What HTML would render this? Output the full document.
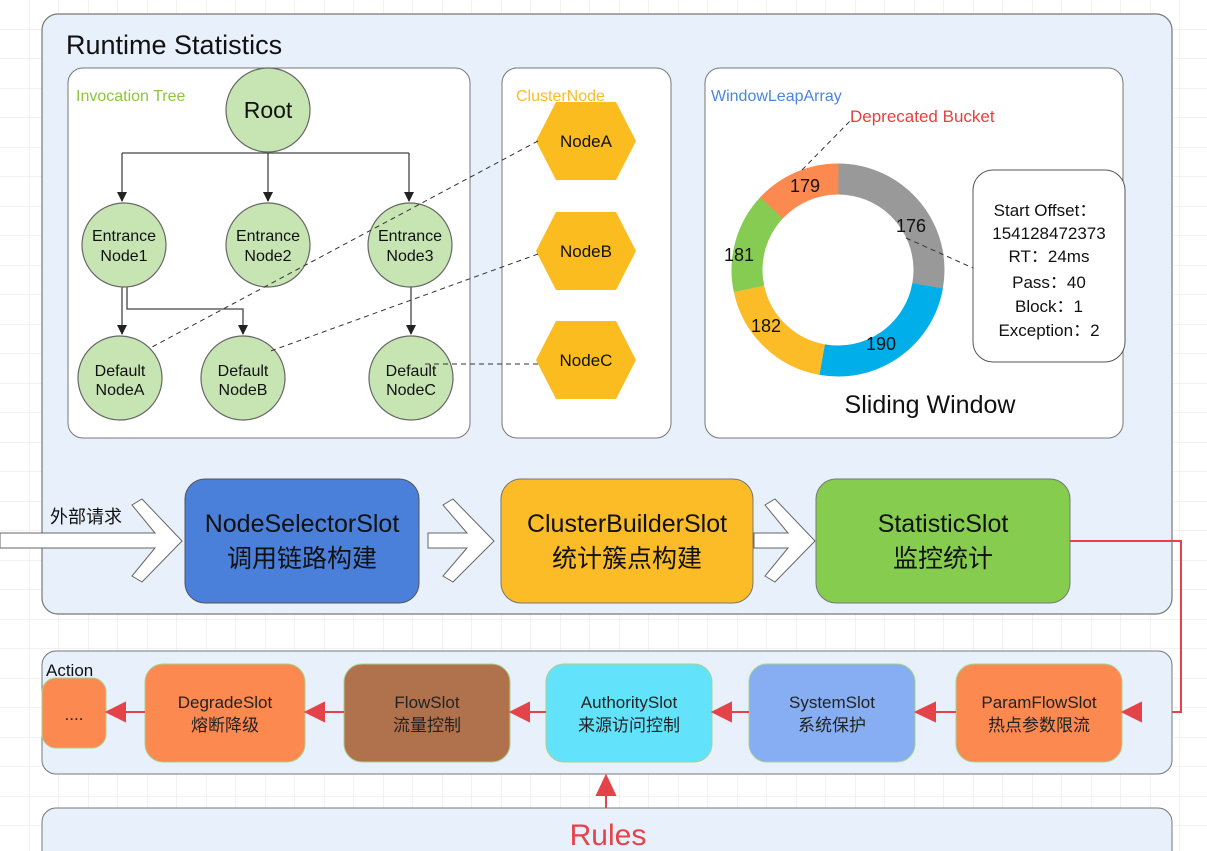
<!DOCTYPE html>
<html><head><meta charset="utf-8"><style>
html,body{margin:0;padding:0;background:#fff;}
svg{display:block;font-family:"Liberation Sans","Noto Sans CJK SC",sans-serif;}
</style></head><body>
<svg width="1207" height="851" viewBox="0 0 1207 851" xmlns="http://www.w3.org/2000/svg">
<defs>
<pattern id="g" width="29.5" height="29.5" patternUnits="userSpaceOnUse"><path d="M29.5 0V29.5H0" fill="none" stroke="#e6e6e6" stroke-width="1"/></pattern>
<marker id="ab" markerWidth="10" markerHeight="10" refX="9" refY="5" orient="auto" markerUnits="userSpaceOnUse"><path d="M0,0 L10,5 L0,10Z" fill="#222"/></marker>
</defs>
<rect width="1207" height="851" fill="url(#g)"/>
<rect x="42" y="14" width="1130" height="600" rx="16" fill="#e7f0fb" stroke="#777" stroke-width="1.2"/>
<text x="66" y="54" font-size="27" fill="#111">Runtime Statistics</text>
<rect x="68" y="68" width="402" height="370" rx="15" fill="#fff" stroke="#777"/>
<text x="76" y="101" font-size="16" fill="#8cc63e">Invocation Tree</text>
<g stroke="#444" stroke-width="1.3" fill="none">
<path d="M268 152V153M122 153H409"/>
<path d="M122 153V201" marker-end="url(#ab)"/>
<path d="M268 152V201" marker-end="url(#ab)"/>
<path d="M409 153V201" marker-end="url(#ab)"/>
<path d="M122 287V334" marker-end="url(#ab)"/>
<path d="M127 287V309H243V334" marker-end="url(#ab)"/>
<path d="M411 287V334" marker-end="url(#ab)"/>
</g>
<g fill="#c6e5b3" stroke="#666" stroke-width="1.2">
<circle cx="268" cy="110" r="42"/>
<circle cx="124" cy="245" r="42"/><circle cx="268" cy="245" r="42"/><circle cx="410" cy="245" r="42"/>
<circle cx="120" cy="378" r="42"/><circle cx="243" cy="378" r="42"/><circle cx="411" cy="378" r="42"/>
</g>
<g font-size="16" fill="#111" text-anchor="middle">
<text x="268" y="118" font-size="23">Root</text>
<text x="124" y="241">Entrance</text><text x="124" y="261">Node1</text>
<text x="268" y="241">Entrance</text><text x="268" y="261">Node2</text>
<text x="410" y="241">Entrance</text><text x="410" y="261">Node3</text>
<text x="120" y="376">Default</text><text x="120" y="395">NodeA</text>
<text x="243" y="376">Default</text><text x="243" y="395">NodeB</text>
<text x="411" y="376">Default</text><text x="411" y="395">NodeC</text>
</g>
<rect x="502" y="68" width="169" height="370" rx="15" fill="#fff" stroke="#777"/>
<text x="516" y="101" font-size="16" fill="#fbbc1f">ClusterNode</text>
<g fill="#fbbc1f">
<polygon points="536,141 556,102 616,102 636,141 616,180 556,180"/>
<polygon points="536,251 556,212 616,212 636,251 616,290 556,290"/>
<polygon points="536,360 556,321 616,321 636,360 616,399 556,399"/>
</g>
<g font-size="17" fill="#111" text-anchor="middle">
<text x="586" y="147">NodeA</text><text x="586" y="257">NodeB</text><text x="586" y="366">NodeC</text>
</g>
<g stroke="#333" stroke-dasharray="5,4" fill="none">
<path d="M538 141L152 347"/><path d="M538 254L268 352"/><path d="M538 364H425"/>
</g>
<rect x="705" y="68" width="418" height="370" rx="15" fill="#fff" stroke="#777"/>
<text x="711" y="101" font-size="16" fill="#4a86e0">WindowLeapArray</text>
<text x="850" y="122" font-size="17" fill="#e5403f">Deprecated Bucket</text>
<g fill="none" stroke-width="31">
<circle cx="838" cy="270" r="91" stroke="#999" stroke-dasharray="159 600" transform="rotate(-90 838 270)"/>
<circle cx="838" cy="270" r="91" stroke="#00aeea" stroke-dasharray="143 600" transform="rotate(10 838 270)"/>
<circle cx="838" cy="270" r="91" stroke="#fbbc27" stroke-dasharray="108 600" transform="rotate(100 838 270)"/>
<circle cx="838" cy="270" r="91" stroke="#86cc52" stroke-dasharray="88 600" transform="rotate(168 838 270)"/>
<circle cx="838" cy="270" r="91" stroke="#fc8950" stroke-dasharray="75 600" transform="rotate(223 838 270)"/>
</g>
<g stroke="#333" stroke-dasharray="5,4" fill="none">
<path d="M802 170L851 120"/><path d="M906 238L973 268"/>
</g>
<g font-size="18" fill="#111" text-anchor="middle">
<text x="805" y="192">179</text><text x="911" y="232">176</text><text x="739" y="261">181</text>
<text x="766" y="332">182</text><text x="881" y="350">190</text>
</g>
<text x="930" y="413" font-size="25" fill="#111" text-anchor="middle">Sliding Window</text>
<rect x="973" y="170" width="152" height="192" rx="20" fill="#fff" stroke="#555"/>
<g font-size="17" fill="#111" text-anchor="middle">
<text x="1045" y="216">Start Offset：</text><text x="1049" y="239">154128472373</text>
<text x="1049" y="262">RT：24ms</text><text x="1049" y="288">Pass：40</text>
<text x="1049" y="312">Block：1</text><text x="1049" y="336">Exception：2</text>
</g>
<path d="M0 533H155L132 505L142 499L182 541L142 582L132 576L155 548H0Z" fill="#fff" stroke="#666"/>
<text x="50" y="523" font-size="18" fill="#111">外部请求</text>
<rect x="185" y="479" width="234" height="124" rx="20" fill="#4a80d9" stroke="#555"/>
<text x="302" y="532" font-size="25" fill="#111" text-anchor="middle">NodeSelectorSlot</text>
<text x="302" y="567" font-size="25" fill="#111" text-anchor="middle">调用链路构建</text>
<path d="M428 533H467L443 505L453 499L494 541L453 582L443 576L467 548H428Z" fill="#fff" stroke="#666"/>
<rect x="501" y="479" width="252" height="124" rx="20" fill="#fbbc27" stroke="#777"/>
<text x="627" y="532" font-size="25" fill="#111" text-anchor="middle">ClusterBuilderSlot</text>
<text x="627" y="567" font-size="25" fill="#111" text-anchor="middle">统计簇点构建</text>
<path d="M754 533H788L765 505L775 499L815 541L775 582L765 576L788 548H754Z" fill="#fff" stroke="#666"/>
<rect x="816" y="479" width="254" height="124" rx="20" fill="#86cc4e" stroke="#777"/>
<text x="943" y="532" font-size="25" fill="#111" text-anchor="middle">StatisticSlot</text>
<text x="943" y="567" font-size="25" fill="#111" text-anchor="middle">监控统计</text>
<path d="M1070 541H1181V712H1140" fill="none" stroke="#e5434a" stroke-width="2"/>
<rect x="42" y="651" width="1130" height="123" rx="14" fill="#e7f0fb" stroke="#777"/>
<text x="46" y="676" font-size="17" fill="#111">Action</text>
<g stroke="#a9d18e" stroke-width="1">
<rect x="42" y="678" width="64" height="70" rx="14" fill="#fc8950"/>
<rect x="145" y="664" width="160" height="98" rx="18" fill="#fc8950"/>
<rect x="344" y="664" width="166" height="98" rx="18" fill="#b0714d"/>
<rect x="546" y="664" width="166" height="98" rx="18" fill="#63e3fb"/>
<rect x="749" y="664" width="166" height="98" rx="18" fill="#87aef2"/>
<rect x="956" y="664" width="166" height="98" rx="18" fill="#fc8950"/>
</g>
<g font-size="17" fill="#222" text-anchor="middle">
<text x="74" y="720">....</text>
<text x="225" y="708">DegradeSlot</text><text x="225" y="731">熔断降级</text>
<text x="427" y="708">FlowSlot</text><text x="427" y="731">流量控制</text>
<text x="629" y="708">AuthoritySlot</text><text x="629" y="731">来源访问控制</text>
<text x="832" y="708">SystemSlot</text><text x="832" y="731">系统保护</text>
<text x="1039" y="708">ParamFlowSlot</text><text x="1039" y="731">热点参数限流</text>
</g>
<g fill="#e5434a" stroke="#e5434a" stroke-width="2">
<path d="M1123 712L1141 703V721Z"/>
<path d="M956 712H935"/><path d="M916 712L935 703V721Z"/>
<path d="M749 712H730"/><path d="M713 712L731 703V721Z"/>
<path d="M546 712H528"/><path d="M511 712L529 703V721Z"/>
<path d="M344 712H324"/><path d="M306 712L324 703V721Z"/>
<path d="M145 712H125"/><path d="M107 712L125 703V721Z"/>
<path d="M606 808V792"/><path d="M606 776L597 795H615Z"/>
</g>
<rect x="42" y="808" width="1130" height="60" rx="14" fill="#e7f0fb" stroke="#777"/>
<text x="608" y="845" font-size="30" fill="#e5434a" text-anchor="middle">Rules</text>
</svg>
</body></html>
